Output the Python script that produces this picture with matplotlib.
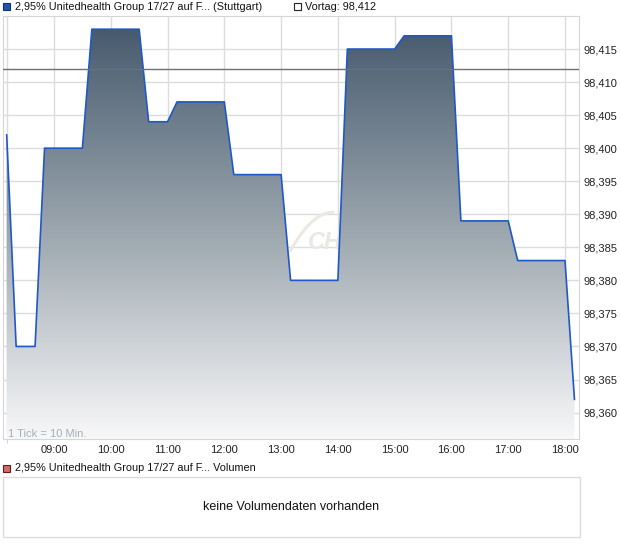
import numpy as np
import matplotlib
matplotlib.use("Agg")
import matplotlib.pyplot as plt
from matplotlib.colors import LinearSegmentedColormap
from matplotlib.patches import Rectangle

plt.rcParams['font.family'] = ['Liberation Sans', 'DejaVu Sans']

# Kursdaten (Stuttgart), 1 Tick = 10 Min.
zeiten = ["08:10", "08:20", "08:40", "08:50", "09:30", "09:40", "10:30", "10:40",
          "11:00", "11:10", "12:00", "12:10", "13:00", "13:10", "14:00", "14:10",
          "15:00", "15:10", "16:00", "16:10", "17:00", "17:10", "18:00", "18:10"]
kurse = [98.402, 98.370, 98.370, 98.400, 98.400, 98.418, 98.418, 98.404,
         98.404, 98.407, 98.407, 98.396, 98.396, 98.380, 98.380, 98.415,
         98.415, 98.417, 98.417, 98.389, 98.389, 98.383, 98.383, 98.362]
vortag = 98.412
stunden = ["09:00", "10:00", "11:00", "12:00", "13:00", "14:00", "15:00", "16:00", "17:00", "18:00"]

titel = "2,95% Unitedhealth Group 17/27 auf F... (Stuttgart)"
titel_vol = "2,95% Unitedhealth Group 17/27 auf F... Volumen"


def zu_std(s):
    h, m = s.split(":")
    return int(h) + int(m) / 60


x = np.array([zu_std(t) for t in zeiten])
y = np.array(kurse)

W, H = 620, 546
fig = plt.figure(figsize=(W / 100, H / 100), dpi=100)


def fx(px):
    return px / W


def fy(py):
    return 1 - py / H


ax = fig.add_axes([fx(3), fy(439), fx(576), 423 / H])
x0, x1 = 8 + 6.1 / 60, 18 + 14.8 / 60
y0, y1 = 98.356, 98.4200
ax.set_xlim(x0, x1)
ax.set_ylim(y0, y1)

# Gitter
ax.set_yticks(np.arange(98.360, 98.4151, 0.005))
ax.set_xticks([zu_std(s) for s in stunden])
ax.set_xticks([x[0]], minor=True)
ax.set_xticklabels(stunden)
ax.set_yticklabels([f"{v:.3f}".replace(".", ",") for v in ax.get_yticks()])
ax.grid(True, which="both", color="#dcdcdc", lw=1)
ax.set_axisbelow(True)
ax.yaxis.tick_right()
ax.tick_params(axis="y", length=0, pad=3, labelsize=8, labelcolor="#222222")
ax.tick_params(axis="x", which="major", length=0, pad=4, labelsize=8, labelcolor="#222222")
ax.tick_params(axis="x", which="minor", length=3, color="#cccccc")
for sp in ax.spines.values():
    sp.set_color("#d6d6d6")

# Wasserzeichen
ax.text(zu_std("13:28"), 98.3858, "CH", fontsize=17, style="italic", fontweight="bold",
        color="#ebe8e3", ha="left", va="center", zorder=0.6)
t = np.linspace(0, 1, 30)
sx = zu_std("13:10") + t * 0.75
sy = 98.3845 + 0.0058 * (1 - (1 - t) ** 2)
ax.plot(sx, sy, color="#ece9e4", lw=2.2, zorder=0.6, solid_capstyle="round")

# Fläche mit Farbverlauf
cmap = LinearSegmentedColormap.from_list("verlauf", ["#f8f8f9", "#9aa5ad", "#42566a"])
poly = ax.fill_between(x, y, y0, facecolor="none", edgecolor="none")
grad = np.linspace(0, 1, 256).reshape(-1, 1)
im = ax.imshow(grad, extent=[x0, x1, y0, y1], origin="lower", aspect="auto",
               cmap=cmap, zorder=1)
im.set_clip_path(poly.get_paths()[0], transform=ax.transData)

ax.plot(x, y, color="#1f58c8", lw=1.2, zorder=3)
ax.axhline(vortag, color="#707070", lw=1, zorder=4)

fig.text(fx(8), fy(434), "1 Tick = 10 Min.", fontsize=8, color="#a3afbc", va="center")

# Legende oben
fig.add_artist(Rectangle((fx(3), fy(10)), fx(7), 7 / H, facecolor="#1f55b5",
                         edgecolor="#1a2f66", lw=0.8, transform=fig.transFigure))
fig.text(fx(15), fy(7), titel, fontsize=7.8, color="#111111", va="center")
fig.add_artist(Rectangle((fx(294), fy(10)), fx(7), 7 / H, facecolor="white",
                         edgecolor="#222222", lw=0.8, transform=fig.transFigure))
fig.text(fx(305), fy(7), "Vortag: 98,412", fontsize=7.8, color="#111111", va="center")

# Volumen
fig.add_artist(Rectangle((fx(3), fy(472)), fx(7), 7 / H, facecolor="#d46a6a",
                         edgecolor="#5a2020", lw=0.8, transform=fig.transFigure))
fig.text(fx(15), fy(468), titel_vol, fontsize=7.8, color="#111111", va="center")
fig.add_artist(Rectangle((fx(3), fy(537)), fx(577), 60 / H, facecolor="white",
                         edgecolor="#dcdcdc", lw=1, transform=fig.transFigure))
fig.text(fx(291), fy(507), "keine Volumendaten vorhanden", fontsize=9,
         color="#111111", ha="center", va="center")

fig.savefig("out.png", dpi=100)
